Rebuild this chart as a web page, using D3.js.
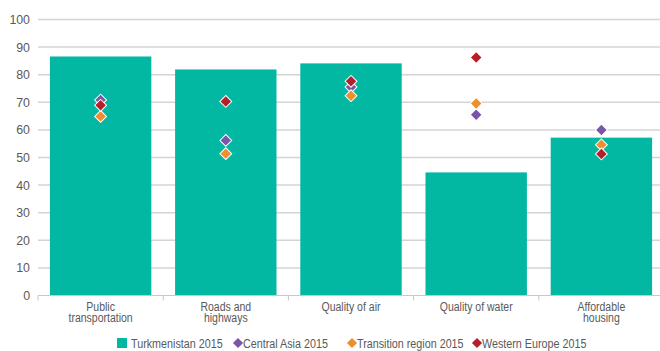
<!DOCTYPE html>
<html><head><meta charset="utf-8">
<script src="https://cdn.jsdelivr.net/npm/d3@7"></script>
<style>body{margin:0;background:#fff}svg{display:block}text{font-family:"Liberation Sans",Arial,sans-serif;fill:#595959}</style>
</head><body><svg id="c" width="660" height="351"></svg>
<script>
const categories = ["Public\ntransportation","Roads and\nhighways","Quality of air","Quality of water","Affordable\nhousing"];
const turkmenistan = [86.6, 81.9, 84.1, 44.6, 57.2];
const centralAsia = [70.8, 56.2, 75.5, 65.5, 60.0];
const transition = [64.9, 51.4, 72.4, 69.6, 54.6];
const westernEurope = [68.9, 70.3, 77.6, 86.2, 51.3];
const yTicks = [0,10,20,30,40,50,60,70,80,90,100];
const seriesNames = ["Turkmenistan 2015","Central Asia 2015","Transition region 2015","Western Europe 2015"];
const colors = ["#02b8a2","#7b56a6","#ef8e2d","#b41f2a"];

(function(){
const svg = d3.select("#c");
const mLeft = 38, mRight = 664, mTop = 19.5, mBottom = 295.5;
function condense(sel, k){
  sel.each(function(){
    const w = this.getComputedTextLength();
    d3.select(this).attr("textLength", w*k).attr("lengthAdjust","spacingAndGlyphs");
  });
}
const x = d3.scaleBand().domain(categories).range([mLeft, mRight]).paddingInner(0.19).paddingOuter(0.095);
const y = d3.scaleLinear().domain([0,100]).range([mBottom, mTop]);

svg.append("g").selectAll("line").data(yTicks.filter(d=>d>0)).join("line")
  .attr("x1", mLeft).attr("x2", 660).attr("y1", d=>y(d)).attr("y2", d=>y(d))
  .attr("stroke", "#d4d4d4").attr("stroke-width", 1.5);
svg.append("g").selectAll("text").data(yTicks).join("text")
  .attr("x", 30).attr("y", d=>y(d)).attr("dy","0.35em").attr("text-anchor","end")
  .attr("font-size", 13).text(d=>d).call(condense, 0.95);

svg.append("g").selectAll("rect").data(categories).join("rect")
  .attr("x", d=>x(d)).attr("width", x.bandwidth())
  .attr("y", (d,i)=>y(turkmenistan[i])).attr("height", (d,i)=>mBottom - y(turkmenistan[i]))
  .attr("fill", colors[0]);

const step = x.step();
svg.append("line").attr("x1", mLeft).attr("x2", 660).attr("y1", mBottom).attr("y2", mBottom)
  .attr("stroke","#c8c8c8").attr("stroke-width",1);
const tickXs = categories.map(c => x(c) - x.paddingInner()*step/2);
svg.append("g").selectAll("line").data(tickXs).join("line")
  .attr("x1", d=>d).attr("x2", d=>d).attr("y1", mBottom).attr("y2", mBottom+5)
  .attr("stroke","#c8c8c8");
const xg = svg.append("g");
categories.forEach(c=>{
  c.split("\n").forEach((line,i)=>{
    xg.append("text").attr("x", x(c)+x.bandwidth()/2).attr("y", 310.5 + i*11.5)
      .attr("text-anchor","middle").attr("font-size",12.5).text(line);
  });
});
xg.selectAll("text").call(condense, 0.84);

const markerSeries = [centralAsia, transition, westernEurope];
markerSeries.forEach((vals, si) => {
  svg.append("g").selectAll("rect").data(categories).join("rect")
    .attr("x", -4.2).attr("y", -4.2).attr("width", 8.4).attr("height", 8.4)
    .attr("transform", (d,i)=>`translate(${x(d)+x.bandwidth()/2},${y(vals[i])}) rotate(45)`)
    .attr("fill", colors[si+1]).attr("stroke","#fff").attr("stroke-width",1);
});

const ly = 343;
const legendX = [117, 238, 352, 477];
seriesNames.forEach((name,i)=>{
  const g = svg.append("g");
  let tx;
  if(i===0){
    g.append("rect").attr("x", legendX[i]).attr("y", ly-5).attr("width",10).attr("height",10).attr("fill",colors[i]);
    tx = legendX[i] + 14;
  } else {
    g.append("rect").attr("x",-3.6).attr("y",-3.6).attr("width",7.2).attr("height",7.2)
      .attr("transform",`translate(${legendX[i]},${ly}) rotate(45)`).attr("fill",colors[i]);
    tx = legendX[i] + 5;
  }
  g.append("text").attr("x", tx).attr("y", ly).attr("dy","0.36em").attr("font-size",12.5).text(name).call(condense, 0.86);
});
})();
</script></body></html>
